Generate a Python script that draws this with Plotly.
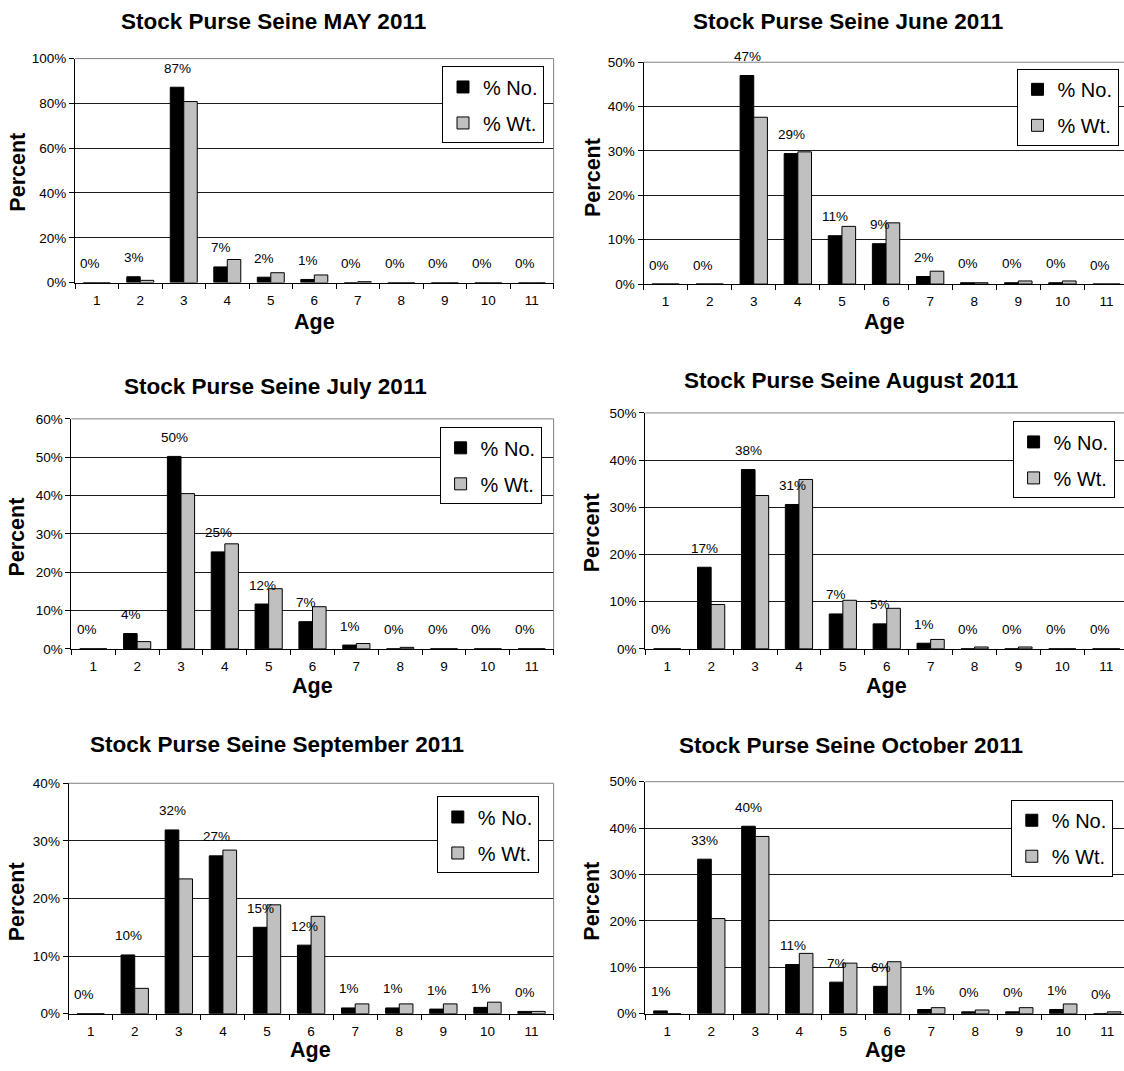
import plotly.graph_objects as go

# Age classes on the x axis
ages = ["1", "2", "3", "4", "5", "6", "7", "8", "9", "10", "11"]

# Percent by number (% No.) and by weight (% Wt.) for each month
may_no = [0, 2.6, 87.2, 7.0, 2.4, 1.4, 0, 0, 0, 0, 0]
may_wt = [0, 1.0, 80.8, 10.3, 4.4, 3.4, 0.4, 0, 0, 0, 0]

june_no = [0, 0, 47.0, 29.4, 10.9, 9.1, 1.7, 0.3, 0.3, 0.3, 0]
june_wt = [0, 0, 37.6, 29.8, 13.0, 13.8, 2.9, 0.3, 0.7, 0.7, 0]

july_no = [0, 4.0, 50.2, 25.3, 11.7, 7.1, 1.0, 0, 0, 0, 0]
july_wt = [0, 1.9, 40.5, 27.4, 15.7, 11.0, 1.4, 0.4, 0, 0, 0]

aug_no = [0, 17.3, 38.0, 30.6, 7.4, 5.3, 1.2, 0, 0, 0, 0]
aug_wt = [0, 9.4, 32.5, 35.9, 10.3, 8.6, 2.0, 0.4, 0.4, 0, 0]

sep_no = [0, 10.2, 31.9, 27.4, 15.0, 11.9, 1.0, 1.0, 0.8, 1.1, 0.4]
sep_wt = [0, 4.4, 23.4, 28.4, 18.9, 16.9, 1.7, 1.7, 1.7, 2.0, 0.4]

oct_no = [0.6, 33.3, 40.4, 10.6, 6.8, 5.9, 0.9, 0.4, 0.4, 0.9, 0]
oct_wt = [0, 20.5, 38.2, 13.0, 10.9, 11.2, 1.3, 0.8, 1.3, 2.1, 0.4]

titles = [
    "Stock Purse Seine MAY 2011",
    "Stock Purse Seine June 2011",
    "Stock Purse Seine July 2011",
    "Stock Purse Seine August 2011",
    "Stock Purse Seine September 2011",
    "Stock Purse Seine October 2011",
]
series_no = [may_no, june_no, july_no, aug_no, sep_no, oct_no]
series_wt = [may_wt, june_wt, july_wt, aug_wt, sep_wt, oct_wt]
y_max = [100, 50, 60, 50, 40, 50]
y_step = [20, 10, 10, 10, 10, 10]

# Panel geometry in pixels: plot area (left, right, top, bottom), category width
# (None = fit the full width), title centre, legend top-left, axis-title centres
W, H = 1124, 1071
geom = [
    dict(l=75, r=553.6, t=52.3, b=279.5, cw=None, title=(273, 15), leg=(447, 65.3), ylab=(18, 168), xlab=(314, 319)),
    dict(l=643.5, r=1124, t=56, b=281, cw=44.1, title=(847.8, 15), leg=(1021.5, 67.7), ylab=(592.4, 173), xlab=(884, 319)),
    dict(l=71.4, r=553.6, t=417.7, b=651, cw=None, title=(275, 385), leg=(444.6, 431.3), ylab=(17.1, 538), xlab=(312, 689)),
    dict(l=645.3, r=1124, t=411.7, b=651, cw=43.9, title=(851, 378.3), leg=(1017.6, 425.3), ylab=(591.7, 533), xlab=(886, 689)),
    dict(l=68.6, r=553.6, t=787.3, b=1021, cw=None, title=(276.8, 748.3), leg=(441.8, 805.7), ylab=(17, 908), xlab=(310, 1057.5)),
    dict(l=645.3, r=1124, t=785.7, b=1021, cw=44.0, title=(851, 749.3), leg=(1015.8, 809), ylab=(591.7, 906.7), xlab=(885.5, 1057.5)),
]

FONT = "Liberation Sans, Arial, Helvetica, sans-serif"
BLACK = "#000000"
SILVER = "#C0C0C0"
BORDER = "#808080"


def fx(x):
    return x / W


def fy(y):
    return 1 - y / H


fig = go.Figure()
annotations = []
shapes = []
layout = {}

for i in range(6):
    n = i + 1
    sfx = "" if n == 1 else str(n)
    xa, ya = "x" + sfx, "y" + sfx
    leg = "legend" + sfx
    g = geom[i]

    fig.add_trace(go.Bar(
        x=ages, y=series_no[i], name="% No.", xaxis=xa, yaxis=ya, legend=leg,
        legendgroup=f"no{n}", marker=dict(color=BLACK, line=dict(color=BLACK, width=1)),
    ))
    fig.add_trace(go.Bar(
        x=ages, y=series_wt[i], name="% Wt.", xaxis=xa, yaxis=ya, legend=leg,
        legendgroup=f"wt{n}", marker=dict(color=SILVER, line=dict(color=BLACK, width=1)),
    ))

    if g["cw"] is None:
        xr = [-0.5, 10.5]
    else:
        xr = [-0.5, -0.5 + (g["r"] - g["l"]) / g["cw"]]

    yticks = list(range(0, y_max[i] + 1, y_step[i]))
    layout["xaxis" + sfx] = dict(
        domain=[fx(g["l"]), min(1.0, fx(g["r"]))], anchor=ya, type="category",
        categoryorder="array", categoryarray=ages,
        range=xr, showline=True, linecolor=BLACK, linewidth=1,
        ticks="outside", tickson="boundaries", ticklen=5, tickcolor=BLACK, tickwidth=1,
        ticklabelstandoff=5, showgrid=False, tickfont=dict(size=13.5, color=BLACK),
        fixedrange=True,
    )
    layout["yaxis" + sfx] = dict(
        domain=[fy(g["b"]), fy(g["t"])], anchor=xa, range=[0, y_max[i]],
        tickmode="array", tickvals=yticks, ticktext=[f"{v}%" for v in yticks],
        showline=True, linecolor=BLACK, linewidth=1,
        ticks="outside", ticklen=5, tickcolor=BLACK, tickwidth=1,
        showgrid=True, gridcolor="#1a1a1a", gridwidth=1, zeroline=False,
        tickfont=dict(size=13.5, color=BLACK), fixedrange=True,
    )
    layout[leg] = dict(
        x=fx(g["leg"][0] - 5), y=fy(g["leg"][1] - 5), xanchor="left", yanchor="top",
        bgcolor="white", bordercolor=BLACK, borderwidth=1,
        font=dict(size=20, color=BLACK, family=FONT),
        traceorder="grouped", tracegroupgap=7, itemwidth=30,
    )

    # grey frame on the top (and right where visible) of the plot area
    shapes.append(dict(type="line", xref=f"{xa} domain", yref=f"{ya} domain",
                       x0=0, x1=1, y0=1, y1=1, line=dict(color=BORDER, width=1), layer="above"))
    if g["r"] < W:
        shapes.append(dict(type="line", xref=f"{xa} domain", yref=f"{ya} domain",
                           x0=1, x1=1, y0=0, y1=1, line=dict(color=BORDER, width=1), layer="above"))

    # percent-by-number value labels above each age class (x = category index)
    for k, v in enumerate(series_no[i]):
        annotations.append(dict(
            x=k, y=v, xref=xa, yref=ya, text=f"{int(v + 0.5)}%", showarrow=False,
            xshift=-6.5, yshift=19, yanchor="middle", font=dict(size=13.5, color=BLACK),
        ))

    # chart title and axis titles
    annotations.append(dict(
        x=fx(g["title"][0]), y=fy(g["title"][1]), xref="paper", yref="paper",
        text=titles[i], showarrow=False, xanchor="center", yanchor="middle",
        font=dict(size=22.5, color=BLACK, family=FONT, weight="bold"),
    ))
    annotations.append(dict(
        x=fx(g["xlab"][0]), y=fy(g["xlab"][1]), xref="paper", yref="paper",
        text="Age", showarrow=False, xanchor="center", yanchor="middle",
        font=dict(size=21.5, color=BLACK, family=FONT, weight="bold"),
    ))
    annotations.append(dict(
        x=fx(g["ylab"][0]), y=fy(g["ylab"][1]), xref="paper", yref="paper",
        text="Percent", showarrow=False, xanchor="center", yanchor="middle", textangle=-90,
        font=dict(size=21.5, color=BLACK, family=FONT, weight="bold"),
    ))

fig.update_layout(
    width=W, height=H, margin=dict(l=0, r=0, t=0, b=0),
    paper_bgcolor="white", plot_bgcolor="white",
    barmode="group", bargap=0.38, bargroupgap=0,
    font=dict(family=FONT, color=BLACK),
    annotations=annotations, shapes=shapes,
    **layout,
)

fig.write_html("out.html")
